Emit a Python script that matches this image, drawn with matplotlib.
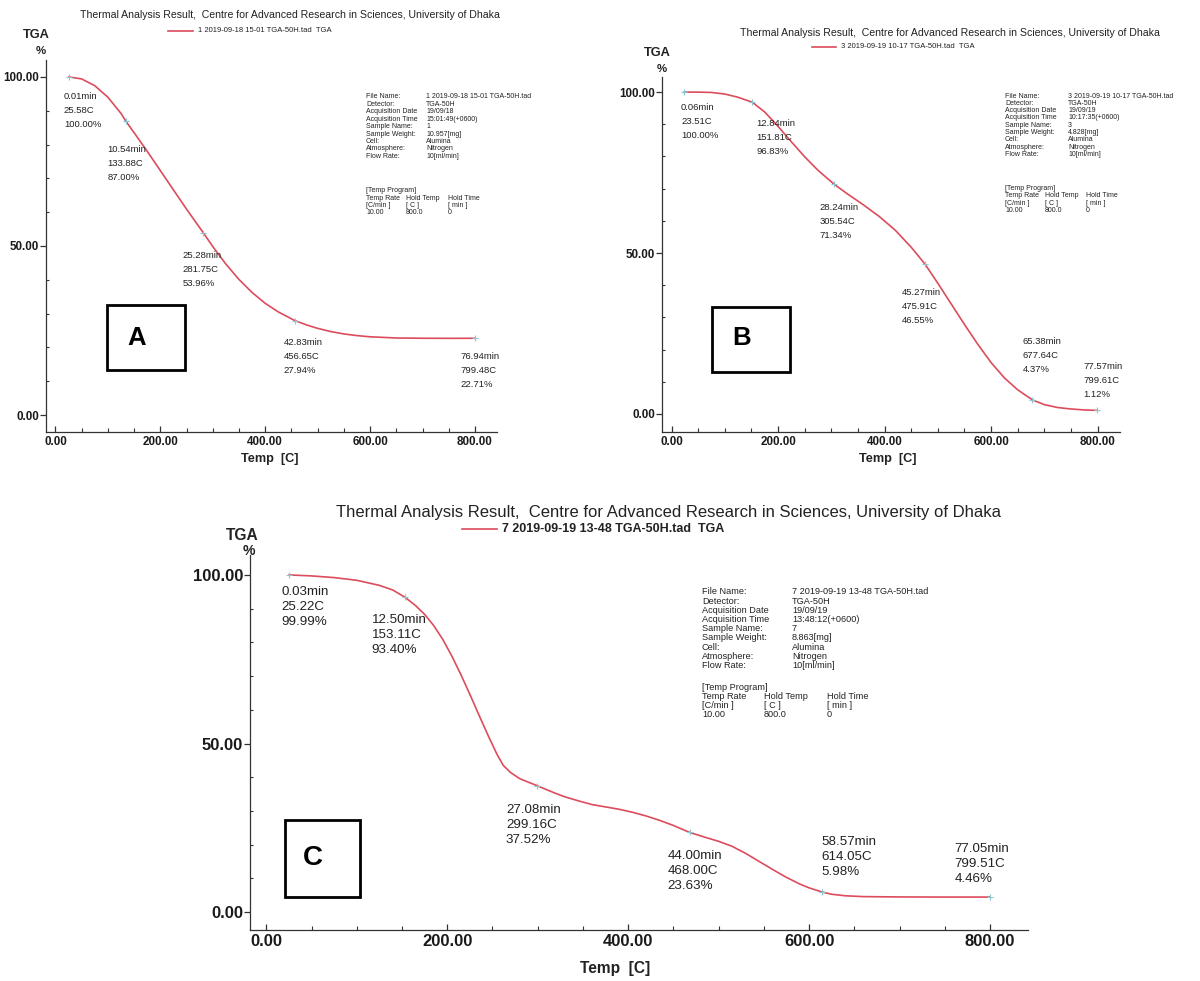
import matplotlib
matplotlib.use("Agg")
import matplotlib.pyplot as plt
from matplotlib.ticker import MultipleLocator, FixedLocator
from matplotlib.patches import Rectangle

W, H = 1200, 981
DPI = 100
PT = 72.0 / DPI  # points per pixel

TITLE = "Thermal Analysis Result,  Centre for Advanced Research in Sciences, University of Dhaka"
NARROW = ["Liberation Sans Narrow", "Liberation Sans", "DejaVu Sans"]
REGULAR = ["Liberation Sans", "DejaVu Sans"]
CURVE = "#dc4c5c"
MARK = "#8cc6d2"

# ---------------- sample 1 ----------------
temp_1 = [25.58, 50, 75, 100, 125, 133.88, 150, 175, 200, 225, 250, 281.75, 300,
          325, 350, 375, 400, 425, 456.65, 480, 500, 525, 550, 575, 600, 650, 700, 750, 799.48]
mass_1 = [100.00, 99.4, 97.4, 94.0, 89.2, 87.00, 83.5, 78.0, 72.3, 66.6, 60.9, 53.96, 49.85,
          44.65, 40.1, 36.25, 33.05, 30.5, 27.94, 26.6, 25.65, 24.7, 24.0, 23.5, 23.15, 22.8,
          22.72, 22.70, 22.71]
mark_min_1 = [0.01, 10.54, 25.28, 42.83, 76.94]
mark_temp_1 = [25.58, 133.88, 281.75, 456.65, 799.48]
mark_mass_1 = [100.00, 87.00, 53.96, 27.94, 22.71]
legend_1 = "1 2019-09-18 15-01 TGA-50H.tad  TGA"
info_1 = ["1 2019-09-18 15-01 TGA-50H.tad", "TGA-50H", "19/09/18", "15:01:49(+0600)",
          "1", "10.957[mg]", "Alumina", "Nitrogen", "10[ml/min]"]

# ---------------- sample 3 ----------------
temp_3 = [23.51, 50, 75, 100, 125, 151.81, 175, 200, 225, 250, 275, 305.54, 330, 360,
          390, 420, 450, 475.91, 500, 525, 550, 575, 600, 625, 650, 677.64, 700, 725,
          750, 775, 799.61]
mass_3 = [100.00, 100.0, 99.9, 99.4, 98.4, 96.83, 93.8, 89.35, 84.55, 79.9, 75.7, 71.34, 68.4,
          65.0, 61.35, 57.1, 51.8, 46.55, 40.6, 34.2, 27.8, 21.65, 15.95, 11.2, 7.5, 4.37,
          2.9, 2.0, 1.55, 1.25, 1.12]
mark_min_3 = [0.06, 12.84, 28.24, 45.27, 65.38, 77.57]
mark_temp_3 = [23.51, 151.81, 305.54, 475.91, 677.64, 799.61]
mark_mass_3 = [100.00, 96.83, 71.34, 46.55, 4.37, 1.12]
legend_3 = "3 2019-09-19 10-17 TGA-50H.tad  TGA"
info_3 = ["3 2019-09-19 10-17 TGA-50H.tad", "TGA-50H", "19/09/19", "10:17:35(+0600)",
          "3", "4.828[mg]", "Alumina", "Nitrogen", "10[ml/min]"]

# ---------------- sample 7 ----------------
temp_7 = [25.22, 50, 75, 100, 125, 140, 153.11, 165, 175, 185, 195, 205, 215, 225, 235,
          245, 255, 262, 270, 280, 290, 299.16, 310, 320, 330, 345, 360, 375, 390, 405,
          420, 435, 450, 468.00, 485, 500, 515, 530, 545, 560, 575, 590, 600, 614.05,
          625, 640, 660, 700, 750, 799.51]
mass_7 = [99.99, 99.7, 99.2, 98.4, 96.9, 95.5, 93.40, 90.9, 88.3, 85.0, 80.9, 76.0, 70.5,
          64.6, 58.5, 52.5, 46.8, 43.5, 41.4, 39.6, 38.5, 37.52, 36.3, 35.2, 34.2, 33.0,
          31.9, 31.2, 30.5, 29.6, 28.5, 27.2, 25.7, 23.63, 22.2, 21.0, 19.5, 17.4, 15.0,
          12.6, 10.3, 8.3, 7.2, 5.98, 5.3, 4.85, 4.6, 4.5, 4.47, 4.46]
mark_min_7 = [0.03, 12.50, 27.08, 44.00, 58.57, 77.05]
mark_temp_7 = [25.22, 153.11, 299.16, 468.00, 614.05, 799.51]
mark_mass_7 = [99.99, 93.40, 37.52, 23.63, 5.98, 4.46]
legend_7 = "7 2019-09-19 13-48 TGA-50H.tad  TGA"
info_7 = ["7 2019-09-19 13-48 TGA-50H.tad", "TGA-50H", "19/09/19", "13:48:12(+0600)",
          "7", "8.863[mg]", "Alumina", "Nitrogen", "10[ml/min]"]

info_keys = ["File Name:", "Detector:", "Acquisition Date", "Acquisition Time", "Sample Name:",
             "Sample Weight:", "Cell:", "Atmosphere:", "Flow Rate:"]
program_rows = [["Temp Rate", "Hold Temp", "Hold Time"],
                ["[C/min ]", "[ C ]", "[ min ]"],
                ["10.00", "800.0", "0"]]

x_ticks = [0, 200, 400, 600, 800]
y_ticks = [0, 50, 100]


def fx(px):
    return px / W


def fy(py):
    return 1 - py / H


fig = plt.figure(figsize=(W / DPI, H / DPI), dpi=DPI)
fig.patch.set_facecolor("white")


def panel(box, ylim, temp, mass, mins, mtemps, mmass, offsets, legend, info, letter, g):
    left, top, right, bottom = box
    ax = fig.add_axes([fx(left), fy(bottom), fx(right - left), (bottom - top) / H])
    ax.set_xlim(-18, 842)
    ax.set_ylim(*ylim)
    for s in ("top", "right"):
        ax.spines[s].set_visible(False)
    for s in ("left", "bottom"):
        ax.spines[s].set_color("#333333")
        ax.spines[s].set_linewidth(0.9)
    ax.xaxis.set_major_locator(FixedLocator(x_ticks))
    ax.xaxis.set_minor_locator(MultipleLocator(50))
    ax.yaxis.set_major_locator(FixedLocator(y_ticks))
    ax.yaxis.set_minor_locator(MultipleLocator(10))
    ax.set_xticklabels([f"{v:.2f}" for v in x_ticks], family=REGULAR, fontsize=g["tick"],
                       color="#1a1a1a", fontweight="bold")
    ax.set_yticklabels([f"{v:.2f}" for v in y_ticks], family=REGULAR, fontsize=g["tick"],
                       color="#1a1a1a", fontweight="bold")
    ax.tick_params(axis="x", which="major", direction="in", length=4, width=0.9,
                   color="#333333", pad=3)
    ax.tick_params(axis="x", which="minor", direction="in", length=3, width=0.8, color="#333333")
    ax.tick_params(axis="y", which="major", direction="out", length=4, width=0.9,
                   color="#333333", pad=1)
    ax.tick_params(axis="y", which="minor", direction="in", length=2.5, width=0.8, color="#333333")

    ax.plot(temp, mass, color=CURVE, lw=1.2, solid_joinstyle="round")
    ax.plot(mtemps, mmass, ls="none", marker="+", ms=4, mew=0.8, color=MARK)

    for m, t, w, (dx, dy) in zip(mins, mtemps, mmass, offsets):
        lines = [f"{m:.2f}min", f"{t:.2f}C", f"{w:.2f}%"]
        for i, s in enumerate(lines):
            ax.annotate(s, xy=(t, w), xytext=(dx * PT, -(dy + i * g["ann_sp"]) * PT),
                        textcoords="offset points", ha="left", va="center",
                        family=g["ann_font"], fontsize=g["ann"], color="#222222")

    # heading, legend and axis captions
    fig.text(fx(g["title"][0]), fy(g["title"][1]), TITLE, ha="center", va="center",
             family=g["title_font"], fontsize=g["title_fs"], color="#222222")
    lx0, lx1, ly = g["leg_line"]
    fig.add_artist(plt.Line2D([fx(lx0), fx(lx1)], [fy(ly), fy(ly)], color=CURVE, lw=1.2))
    fig.text(fx(lx1 + 5), fy(ly), legend, ha="left", va="center", family=g["title_font"],
             fontsize=g["leg_fs"], color="#222222", fontweight=g["leg_w"])
    fig.text(fx(g["tga"][0]), fy(g["tga"][1]), "TGA", ha="center", va="center",
             family=REGULAR, fontsize=g["lab"], fontweight="bold", color="#222222")
    fig.text(fx(g["pct"][0]), fy(g["pct"][1]), "%", ha="center", va="center",
             family=REGULAR, fontsize=g["lab"] * 0.9, fontweight="bold", color="#222222")
    fig.text(fx(g["xlab"][0]), fy(g["xlab"][1]), "Temp  [C]", ha="center", va="center",
             family=REGULAR, fontsize=g["lab"], fontweight="bold", color="#222222")

    # instrument information block
    ix0, ix1, iy, isp = g["info"]
    for i, (k, v) in enumerate(zip(info_keys, info)):
        fig.text(fx(ix0), fy(iy + i * isp), k, ha="left", va="center",
                 family=g["info_font"], fontsize=g["info_fs"], color="#222222")
        fig.text(fx(ix1), fy(iy + i * isp), v, ha="left", va="center",
                 family=g["info_font"], fontsize=g["info_fs"], color="#222222")
    py0, psp, cols = g["prog"]
    fig.text(fx(ix0), fy(py0), "[Temp Program]", ha="left", va="center",
             family=g["info_font"], fontsize=g["info_fs"], color="#222222")
    for r, row in enumerate(program_rows):
        for c, s in enumerate(row):
            fig.text(fx(cols[c]), fy(py0 + (r + 1) * psp), s, ha="left", va="center",
                     family=g["info_font"], fontsize=g["info_fs"], color="#222222")

    # panel letter in a framed box
    bx0, by0, bx1, by1 = g["box"]
    fig.add_artist(Rectangle((fx(bx0), fy(by1)), fx(bx1 - bx0), (by1 - by0) / H,
                             transform=fig.transFigure, fill=False, lw=2.0, ec="black"))
    fig.text(fx(g["letter"][0]), fy(g["letter"][1]), letter, ha="center", va="center",
             family=REGULAR, fontsize=g["letter_fs"], fontweight="bold")
    return ax


small = dict(tick=8.4, lab=9.2, ann=6.8, ann_sp=14, ann_font=NARROW, title_font=NARROW,
             title_fs=7.6, leg_fs=5.5, leg_w="normal", info_font=NARROW, info_fs=5.0,
             letter_fs=18.5)

g1 = dict(small, title=(290, 15), leg_line=(168, 193, 31), tga=(36, 35), pct=(41, 51),
          xlab=(270, 459), info=(366, 426, 97, 7.4), prog=(191, 7.2, (366, 406, 448)),
          box=(107, 305, 185, 370), letter=(137, 338))
panel((46, 60, 497, 432), (-5.0, 105.0), temp_1, mass_1, mark_min_1, mark_temp_1, mark_mass_1,
      [(-5, 20), (-18, 29), (-21, 23), (-11, 22), (-14, 18)], legend_1, info_1, "A", g1)

g3 = dict(small, title=(950, 33), leg_line=(812, 836, 47), tga=(657, 53), pct=(662, 69),
          xlab=(888, 459), info=(1005, 1068, 96, 7.3), prog=(188, 7.6, (1005, 1045, 1086)),
          box=(712, 307, 790, 372), letter=(742, 338))
panel((662, 77, 1120, 432), (-5.6, 104.7), temp_3, mass_3, mark_min_3, mark_temp_3, mark_mass_3,
      [(-3, 15), (4, 21), (-15, 23), (-23, 28), (-10, -58), (-14, -44)], legend_3, info_3, "B", g3)

big = dict(tick=12.0, lab=11.2, ann=9.6, ann_sp=15, ann_font=REGULAR, title_font=REGULAR,
           title_fs=12.0, leg_fs=9.0, leg_w="bold", info_font=REGULAR, info_fs=6.6,
           letter_fs=20)
g7 = dict(big, title=(668, 512), leg_line=(462, 497, 529), tga=(242, 535), pct=(249, 551),
          xlab=(615, 968), info=(702, 792, 592, 9.2), prog=(688, 8.8, (702, 764, 827)),
          box=(285, 820, 360, 897), letter=(313, 858))
panel((250, 555, 1028, 930), (-5.3, 105.9), temp_7, mass_7, mark_min_7, mark_temp_7, mark_mass_7,
      [(-8, 17), (-33, 23), (-31, 24), (-22, 24), (0, -50), (-35, -48)], legend_7, info_7, "C", g7)

fig.savefig("out.png", dpi=DPI, facecolor="white")
